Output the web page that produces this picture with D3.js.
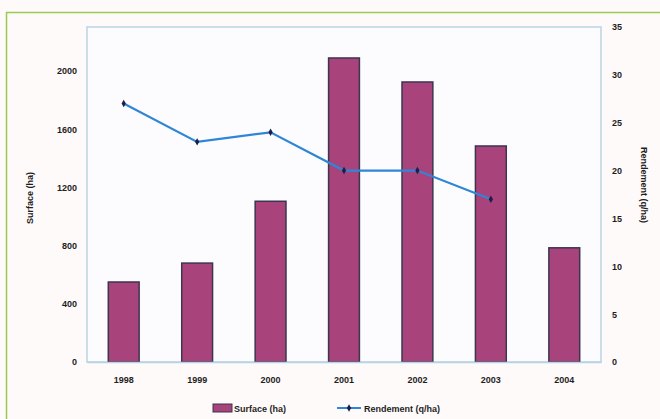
<!DOCTYPE html>
<html>
<head>
<meta charset="utf-8">
<script src="https://cdn.jsdelivr.net/npm/d3@7"></script>
<style>
  body { margin: 0; background: #fff; }
  svg text { font-family: "Liberation Sans", Arial, sans-serif; font-weight: bold; fill: #1e1e1e; }
</style>
</head>
<body>
<svg id="chart" width="660" height="419"></svg>
<script>
// data
var years = ["1998", "1999", "2000", "2001", "2002", "2003", "2004"];
var surface = [550, 680, 1105, 2090, 1925, 1485, 785];
var rendement = [27, 23, 24, 20, 20, 17, null];
var leftTicks = [0, 400, 800, 1200, 1600, 2000];
var rightTicks = [0, 5, 10, 15, 20, 25, 30, 35];

var width = 660,
    height = 419;

var plot = {left: 87, right: 601, top: 27, bottom: 362};

var svg = d3.select("#chart");

// outer frame
svg.append("rect")
    .attr("x", 0).attr("y", 0).attr("width", width).attr("height", height)
    .attr("fill", "#fefafa");
svg.append("rect")
    .attr("x", 6.5).attr("y", 12.5).attr("width", 660).attr("height", 420)
    .attr("fill", "none").attr("stroke", "#96cc52").attr("stroke-width", 1.5);

var x = d3.scaleBand()
    .domain(years)
    .range([plot.left, plot.right])
    .paddingInner(0.58)
    .paddingOuter(0.29);

var yL = d3.scaleLinear().domain([0, 2303]).range([plot.bottom, plot.top]);
var yR = d3.scaleLinear().domain([0, 35]).range([plot.bottom, plot.top]);

// plot area
svg.append("rect")
    .attr("x", plot.left).attr("y", plot.top)
    .attr("width", plot.right - plot.left).attr("height", plot.bottom - plot.top)
    .attr("fill", "#fcfcfe").attr("stroke", "#b9d3e6").attr("stroke-width", 1.5);

// bars
svg.append("g").selectAll("rect").data(surface)
  .enter().append("rect")
    .attr("x", (d, i) => x(years[i]))
    .attr("y", d => yL(d))
    .attr("width", x.bandwidth())
    .attr("height", d => yL(0) - yL(d))
    .attr("fill", "#a8437c")
    .attr("stroke", "#3c3550")
    .attr("stroke-width", 1.5);

// left axis
var axL = svg.append("g")
    .attr("transform", "translate(" + plot.left + ",0)")
    .call(d3.axisLeft(yL).tickValues(leftTicks).tickFormat(d3.format("d")).tickSize(0).tickPadding(10));
axL.select(".domain").remove();
axL.selectAll("text").style("font-size", "9px").attr("fill", "#1e1e1e");

// right axis
var axR = svg.append("g")
    .attr("transform", "translate(" + plot.right + ",0)")
    .call(d3.axisRight(yR).tickValues(rightTicks).tickSize(0).tickPadding(11));
axR.select(".domain").remove();
axR.selectAll("text").style("font-size", "9px").attr("fill", "#1e1e1e");

// x axis
var axX = svg.append("g")
    .attr("transform", "translate(0," + plot.bottom + ")")
    .call(d3.axisBottom(x).tickSize(0).tickPadding(15));
axX.select(".domain").attr("stroke", "#b9d3e6").attr("stroke-width", 1.5);
axX.selectAll("text").style("font-size", "9px").attr("fill", "#1e1e1e");

// line
var pts = rendement.map((v, i) => ({year: years[i], v: v})).filter(d => d.v != null);
var line = d3.line()
    .x(d => x(d.year) + x.bandwidth() / 2)
    .y(d => yR(d.v));

svg.append("path")
    .datum(pts)
    .attr("d", line)
    .attr("fill", "none")
    .attr("stroke", "#2f86d6")
    .attr("stroke-width", 2.2);

svg.append("g").selectAll("path").data(pts)
  .enter().append("path")
    .attr("d", d3.symbol().type(d3.symbolDiamond).size(16))
    .attr("transform", d => "translate(" + (x(d.year) + x.bandwidth() / 2) + "," + yR(d.v) + ")")
    .attr("fill", "#1c1f4a");

// axis titles
svg.append("text")
    .attr("transform", "translate(33,198) rotate(-90)")
    .attr("text-anchor", "middle")
    .style("font-size", "9px")
    .text("Surface (ha)");

svg.append("text")
    .attr("transform", "translate(641,185) rotate(90)")
    .attr("text-anchor", "middle")
    .style("font-size", "9px")
    .text("Rendement (q/ha)");

// legend
var leg = svg.append("g").attr("transform", "translate(0,408)");
leg.append("rect")
    .attr("x", 213).attr("y", -4).attr("width", 19).attr("height", 8)
    .attr("fill", "#a8437c").attr("stroke", "#3c3550");
leg.append("text")
    .attr("x", 234).attr("y", 3.5)
    .style("font-size", "9px")
    .text("Surface (ha)");
leg.append("line")
    .attr("x1", 337).attr("x2", 361).attr("y1", 0).attr("y2", 0)
    .attr("stroke", "#2f86d6").attr("stroke-width", 2);
leg.append("path")
    .attr("d", d3.symbol().type(d3.symbolDiamond).size(16))
    .attr("transform", "translate(349,0)")
    .attr("fill", "#1c1f4a");
leg.append("text")
    .attr("x", 364).attr("y", 3.5)
    .style("font-size", "9px")
    .text("Rendement (q/ha)");
</script>
</body>
</html>
